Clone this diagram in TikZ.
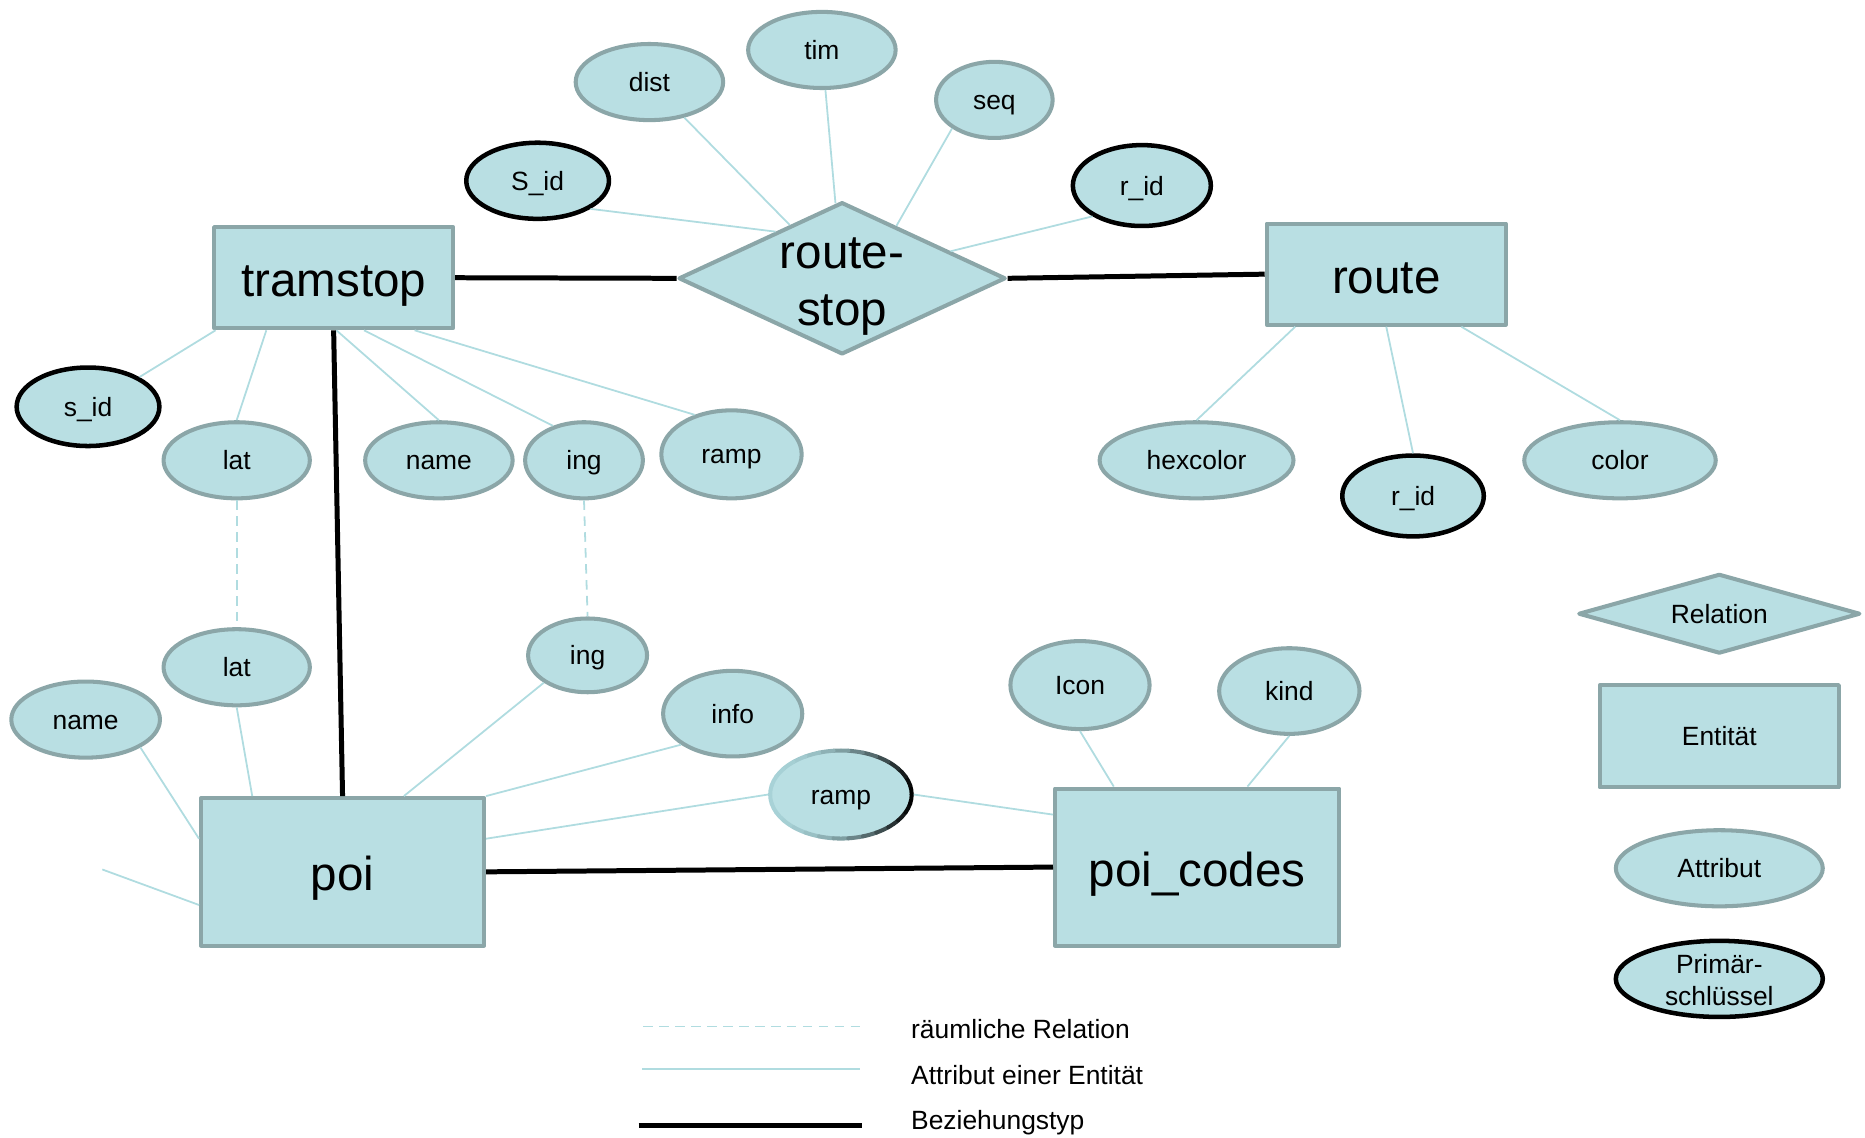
\documentclass[tikz,border=0pt]{standalone}
\usepackage{fontspec}
\setmainfont{Liberation Sans}
\usetikzlibrary{shapes.geometric}
\definecolor{erfill}{RGB}{185,223,227}
\definecolor{erborder}{RGB}{139,166,168}
\definecolor{erline}{RGB}{176,220,224}
\definecolor{erlite}{RGB}{168,210,215}
\begin{document}
\begin{tikzpicture}[x=0.5pt, y=-0.5pt, line join=round,
		entity/.style={rectangle, draw=erborder, fill=erfill, line width=1.7pt, text height=16pt, text depth=0pt, font=\fontsize{20}{24}\selectfont},
		relation/.style={diamond, draw=erborder, fill=erfill, line width=1.7pt},
		attr/.style={ellipse, draw=erborder, fill=erfill, line width=1.7pt, inner sep=1pt, text height=8pt, text depth=0pt, font=\fontsize{11.1}{13.5}\selectfont},
		pkey/.style={attr, draw=black, line width=1.9pt},
		attrline/.style={erline, line width=0.75pt},
		spatial/.style={attrline, dash pattern=on 4pt off 2.7pt},
		reltype/.style={black, line width=2.1pt}]
	\useasboundingbox (0,0) rectangle (1568,956);
	% entities and relation
	\node[entity, minimum width=100.5pt, minimum height=42.5pt] (tram) at (280.5,233.5) {tramstop};
	\node[entity, minimum width=100.5pt, minimum height=42.5pt] (route) at (1165.5,230.5) {route};
	\node[entity, minimum width=119pt, minimum height=62pt] (poi) at (288,733) {poi};
	\node[entity, minimum width=119.5pt, minimum height=66pt] (poic) at (1006.5,729) {poi\_codes};
	\node[relation, minimum width=137.5pt, minimum height=64pt] (rs) at (708,234) {};
	\node[font=\fontsize{20}{24}\selectfont, align=center, yshift=-3.5pt] (rstext) at (rs) {route-\\stop};
	% attributes
	\node[attr, minimum width=62pt, minimum height=32pt] (dist) at (546,69) {dist};
	\node[attr, minimum width=62pt, minimum height=32pt] (tim) at (691,42) {tim};
	\node[attr, minimum width=49pt, minimum height=32pt] (seq) at (836,84) {seq};
	\node[pkey, minimum width=60pt, minimum height=32pt] (Sid) at (452,152) {S\_id};
	\node[pkey, minimum width=58pt, minimum height=34pt] (ridtop) at (960,156) {r\_id};
	\node[pkey, minimum width=60pt, minimum height=33pt] (sid) at (74,342) {s\_id};
	\node[attr, minimum width=61.5pt, minimum height=32pt] (lat1) at (199,387) {lat};
	\node[attr, minimum width=62pt, minimum height=32pt] (name1) at (369,387) {name};
	\node[attr, minimum width=49.5pt, minimum height=32pt] (ing1) at (491,387) {ing};
	\node[attr, minimum width=59pt, minimum height=37pt] (ramp1) at (615,382) {ramp};
	\node[attr, minimum width=81.5pt, minimum height=32pt] (hexcolor) at (1006,387) {hexcolor};
	\node[pkey, minimum width=59.5pt, minimum height=34pt] (ridbot) at (1188,417) {r\_id};
	\node[attr, minimum width=80.5pt, minimum height=32pt] (color) at (1362,387) {color};
	\node[attr, minimum width=61.5pt, minimum height=32pt] (lat2) at (199,561) {lat};
	\node[attr, minimum width=50pt, minimum height=31pt] (ing2) at (494,551) {ing};
	\node[attr, minimum width=58.5pt, minimum height=36pt] (info) at (616,600) {info};
	\node[attr, minimum width=62.5pt, minimum height=32pt] (name2) at (72,605) {name};
	\node[attr, draw=none, minimum width=59.5pt, minimum height=37pt] (ramp2) at (707,668) {ramp};
	\node[attr, minimum width=58.5pt, minimum height=37pt] (icon) at (908,576) {Icon};
	\node[attr, minimum width=59pt, minimum height=36pt] (kind) at (1084,581) {kind};
	% ramp border fading to black
	\foreach \a [evaluate=\a as \p using {100*((1+cos(\a+6))/2)^2}] in {0,12,...,348}
		\draw[black!\p!erlite, line width=1.7pt, line cap=round] ([shift={(\a:29.75pt and 18.5pt)}]ramp2.center) arc[start angle=\a, end angle=\a+12, x radius=29.75pt, y radius=18.5pt];
	% relationship types
	\draw[reltype] (tram.east) -- (rs.west);
	\draw[reltype] (rs.east) -- (route.west);
	\draw[reltype] (tram.south) -- (poi.north);
	\draw[reltype] (poi.east) -- (poic.west);
	% attribute lines
	\draw[attrline] (dist) -- (rs);
	\draw[attrline] (tim) -- (rs);
	\draw[attrline] (seq.214) -- (rs.44);
	\draw[attrline] (Sid.332) -- (rs.145);
	\draw[attrline] (ridtop.212) -- (rs.14);
	\draw[attrline] (sid.30) -- (tram.204);
	\draw[attrline] (lat1.north) -- (tram.218);
	\draw[attrline] (name1.north) -- (tram.273);
	\draw[attrline] (ing1.132) -- (tram.300);
	\draw[attrline] (ramp1.133) -- (tram.327);
	\draw[attrline] (hexcolor.north) -- (route.210);
	\draw[attrline] (ridbot.north) -- (route.south);
	\draw[attrline] (color.north) -- (route.325);
	\draw[attrline] (name2.333) -- (poi.167);
	\draw[attrline] (lat2.south) -- (poi.140);
	\draw[attrline] (ing2.212) -- (poi.51);
	\draw[attrline] (info.211) -- (poi.north east);
	\draw[attrline] (ramp2.west) -- (poi.13);
	\coordinate (poifree) at (86,731);
	\draw[attrline] (poifree) -- (poi.193);
	\draw[attrline] (ramp2.east) -- (poic.160);
	\draw[attrline] (icon.south) -- (poic.136);
	\draw[attrline] (kind.south) -- (poic.58);
	% spatial relations
	\draw[spatial] (lat1.south) -- (lat2.north);
	\draw[spatial] (ing1.south) -- (ing2.north);
	% legend
	\node[relation, aspect=3.5, minimum width=118.5pt, minimum height=33.5pt, text height=8pt, text depth=0pt, font=\fontsize{11.1}{13.5}\selectfont] (legrel) at (1445.5,516) {Relation};
	\node[entity, minimum width=100.5pt, minimum height=43pt, text height=8pt, font=\fontsize{11.1}{13.5}\selectfont] (legent) at (1445.5,619) {Entität};
	\node[attr, minimum width=87pt, minimum height=32pt] (legattr) at (1445.5,730) {Attribut};
	\node[pkey, minimum width=87pt, minimum height=32pt] (legpk) at (1445.5,823) {};
	\node[font=\fontsize{11.1}{13.5}\selectfont, align=center, yshift=-0.5pt] (legpktext) at (legpk) {Primär-\\schlüssel};
	\coordinate (l1a) at (541,863); \coordinate (l1b) at (724,863);
	\coordinate (l2a) at (540,899); \coordinate (l2b) at (723,899);
	\coordinate (l3a) at (537,946); \coordinate (l3b) at (725,946);
	\draw[spatial] (l1a) -- (l1b);
	\draw[attrline] (l2a) -- (l2b);
	\draw[reltype] (l3a) -- (l3b);
	\node[anchor=west, font=\fontsize{11.1}{13.5}\selectfont] (leg1) at (759,865) {räumliche Relation};
	\node[anchor=west, font=\fontsize{11.1}{13.5}\selectfont] (leg2) at (759,904) {Attribut einer Entität};
	\node[anchor=west, font=\fontsize{11.1}{13.5}\selectfont] (leg3) at (759,944) {Beziehungstyp};
\end{tikzpicture}
\end{document}
